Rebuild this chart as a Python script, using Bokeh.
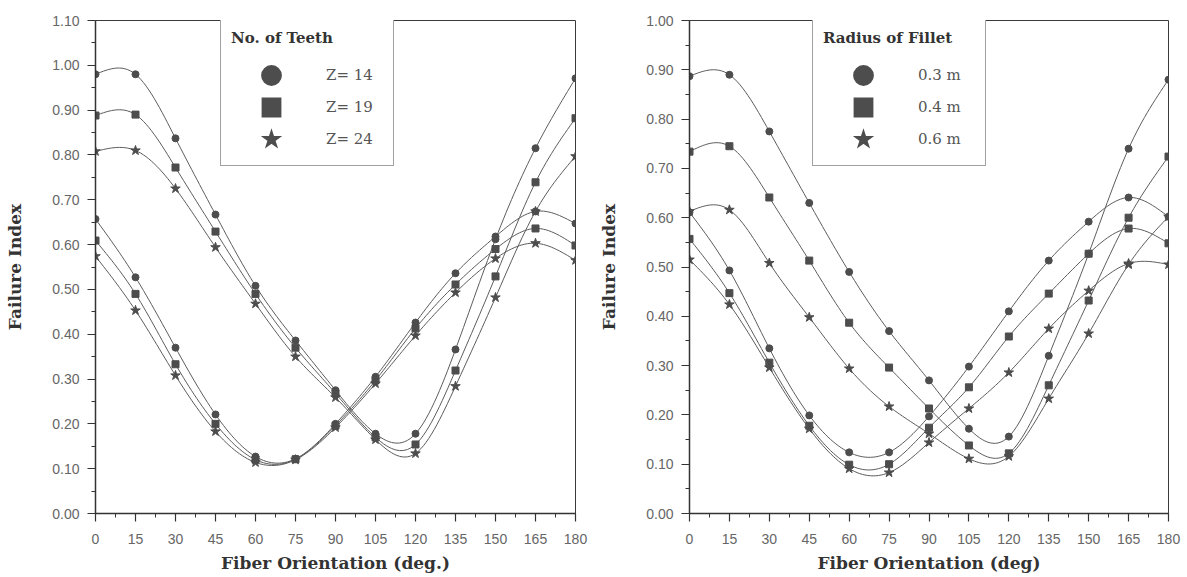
import numpy as np
from bokeh.plotting import figure
from bokeh.layouts import row
from bokeh.models import FixedTicker, NumeralTickFormatter, Legend, LegendItem
from bokeh.embed import file_html
from bokeh.resources import INLINE

# Fibre orientation (degrees) at which the failure index was evaluated
angles = [0, 15, 30, 45, 60, 75, 90, 105, 120, 135, 150, 165, 180]

# Left panel: number of teeth (two curve families per tooth count)
teeth_labels = ["Z= 14", "Z= 19", "Z= 24"]
teeth_z14_a = [0.980, 0.980, 0.837, 0.667, 0.508, 0.386, 0.275, 0.178, 0.178, 0.366, 0.612, 0.815, 0.971]
teeth_z19_a = [0.888, 0.890, 0.772, 0.629, 0.490, 0.370, 0.268, 0.170, 0.154, 0.319, 0.529, 0.739, 0.882]
teeth_z24_a = [0.808, 0.810, 0.725, 0.594, 0.468, 0.350, 0.259, 0.165, 0.134, 0.284, 0.482, 0.674, 0.797]
teeth_z14_b = [0.657, 0.527, 0.370, 0.221, 0.127, 0.122, 0.200, 0.305, 0.426, 0.536, 0.618, 0.674, 0.647]
teeth_z19_b = [0.609, 0.490, 0.333, 0.200, 0.120, 0.121, 0.196, 0.297, 0.413, 0.511, 0.590, 0.636, 0.598]
teeth_z24_b = [0.574, 0.453, 0.308, 0.183, 0.114, 0.120, 0.192, 0.290, 0.397, 0.493, 0.569, 0.603, 0.565]

# Right panel: radius of fillet
fillet_labels = ["0.3 m", "0.4 m", "0.6 m"]
fillet_03_a = [0.887, 0.890, 0.775, 0.630, 0.490, 0.370, 0.270, 0.172, 0.156, 0.320, 0.527, 0.740, 0.880]
fillet_04_a = [0.734, 0.745, 0.641, 0.513, 0.387, 0.296, 0.213, 0.138, 0.122, 0.260, 0.432, 0.600, 0.724]
fillet_06_a = [0.613, 0.616, 0.508, 0.398, 0.294, 0.217, 0.162, 0.111, 0.116, 0.233, 0.365, 0.505, 0.602]
fillet_03_b = [0.611, 0.493, 0.335, 0.199, 0.124, 0.124, 0.197, 0.298, 0.410, 0.513, 0.592, 0.641, 0.602]
fillet_04_b = [0.557, 0.447, 0.306, 0.178, 0.099, 0.100, 0.174, 0.256, 0.359, 0.446, 0.527, 0.578, 0.548]
fillet_06_b = [0.515, 0.424, 0.296, 0.172, 0.091, 0.083, 0.144, 0.213, 0.286, 0.375, 0.452, 0.507, 0.505]

left_y_ticks = [0.0, 0.1, 0.2, 0.3, 0.4, 0.5, 0.6, 0.7, 0.8, 0.9, 1.0, 1.1]
right_y_ticks = [0.0, 0.1, 0.2, 0.3, 0.4, 0.5, 0.6, 0.7, 0.8, 0.9, 1.0]

markers = ["circle", "square", "star"]
marker_sizes = [7, 7, 10]
# outline weight / join of the enlarged legend key symbols
key_widths = [8, 7, 3]
key_joins = ["round", "miter", "miter"]
INK = "#4d4d4d"
LINE = "#5c5c5c"
SERIF = "DejaVu Serif"


def natural_spline(x, y, step=1.0):
    """Smooth curve through the measured points (natural cubic spline)."""
    x = np.asarray(x, float)
    y = np.asarray(y, float)
    n = len(x)
    h = np.diff(x)
    A = np.zeros((n, n))
    r = np.zeros(n)
    A[0, 0] = A[-1, -1] = 1.0
    for i in range(1, n - 1):
        A[i, i - 1] = h[i - 1]
        A[i, i] = 2 * (h[i - 1] + h[i])
        A[i, i + 1] = h[i]
        r[i] = 3 * ((y[i + 1] - y[i]) / h[i] - (y[i] - y[i - 1]) / h[i - 1])
    c = np.linalg.solve(A, r)
    b = (y[1:] - y[:-1]) / h - h * (2 * c[:-1] + c[1:]) / 3
    d = (c[1:] - c[:-1]) / (3 * h)
    xs = np.arange(x[0], x[-1] + step / 2, step)
    idx = np.clip(np.searchsorted(x, xs, side="right") - 1, 0, n - 2)
    t = xs - x[idx]
    ys = y[idx] + b[idx] * t + c[idx] * t ** 2 + d[idx] * t ** 3
    return xs, ys


def make_panel(series_a, series_b, labels, legend_title, y_ticks, y_max,
               x_title, border_left, frame_w, border_right, border_top,
               border_bottom, legend_loc):
    p = figure(frame_width=frame_w, frame_height=493,
               min_border_left=border_left, min_border_right=border_right,
               min_border_top=border_top, min_border_bottom=border_bottom,
               x_range=(0, 180), y_range=(0, y_max),
               output_backend="svg", toolbar_location=None,
               background_fill_color="white", border_fill_color="white")
    p.grid.visible = False
    p.outline_line_color = "#3a3a3a"
    p.outline_line_width = 1

    items = []
    for k in range(3):
        for ys in (series_a[k], series_b[k]):
            sx, sy = natural_spline(angles, ys)
            p.line(sx, sy, line_color=LINE, line_width=1)
            p.scatter(angles, ys, marker=markers[k], size=marker_sizes[k],
                      fill_color=INK, line_color=INK)
        # legend key: muted (fully transparent) copy of the series, drawn with
        # a heavy outline so that the symbol reads large in the legend box
        key = p.scatter(angles, series_a[k], marker=markers[k],
                        size=marker_sizes[k], fill_color=INK, line_color=INK,
                        line_width=key_widths[k], line_join=key_joins[k],
                        muted_alpha=0)
        key.muted = True
        items.append(LegendItem(label=labels[k], renderers=[key]))

    p.xaxis.ticker = FixedTicker(ticks=angles,
                                 minor_ticks=[a + 7.5 for a in angles[:-1]])
    p.yaxis.ticker = FixedTicker(ticks=y_ticks,
                                 minor_ticks=[t + 0.05 for t in y_ticks[:-1]])
    p.yaxis.formatter = NumeralTickFormatter(format="0.00")
    for ax in (p.xaxis, p.yaxis):
        ax.axis_line_color = "#333333"
        ax.axis_line_width = 1.5
        ax.major_tick_line_color = "#333333"
        ax.minor_tick_line_color = "#333333"
        ax.major_tick_line_width = 1.2
        ax.major_tick_in = 0
        ax.minor_tick_in = 0
        ax.major_tick_out = 8
        ax.minor_tick_out = 4
        ax.major_label_text_font = "Liberation Sans"
        ax.major_label_text_font_size = "14px"
        ax.major_label_text_color = "#666666"
        ax.axis_label_text_font = SERIF
        ax.axis_label_text_font_style = "bold"
        ax.axis_label_text_font_size = "17px"
        ax.axis_label_text_color = "#333333"
    p.xaxis.axis_label = x_title
    p.yaxis.axis_label = "Failure Index"
    p.xaxis.major_label_standoff = 12
    p.yaxis.major_label_standoff = 8
    p.xaxis.axis_label_standoff = 6
    p.yaxis.axis_label_standoff = 24

    legend = Legend(items=items, title=legend_title, location=legend_loc,
                    title_text_font=SERIF, title_text_font_style="bold",
                    title_text_font_size="15px", title_text_color="#333333",
                    label_text_font=SERIF, label_text_font_size="15px",
                    label_text_color="#555555",
                    border_line_color="#444444", border_line_width=1,
                    background_fill_color="white", background_fill_alpha=1,
                    inactive_fill_alpha=0,
                    padding=10, spacing=0, margin=0,
                    glyph_width=80, glyph_height=32, label_standoff=15,
                    label_width=57, title_standoff=12)
    p.add_layout(legend)
    return p


left = make_panel([teeth_z14_a, teeth_z19_a, teeth_z24_a],
                  [teeth_z14_b, teeth_z19_b, teeth_z24_b],
                  teeth_labels, "No. of Teeth", left_y_ticks, 1.10,
                  "Fiber Orientation (deg.)", 95, 480, 15, 15, 69, (125, 347))
right = make_panel([fillet_03_a, fillet_04_a, fillet_06_a],
                   [fillet_03_b, fillet_04_b, fillet_06_b],
                   fillet_labels, "Radius of Fillet", right_y_ticks, 1.00,
                   "Fiber Orientation (deg)", 99, 479, 19, 20, 64, (123, 347))

layout = row(left, right)
open("out.html", "w").write(file_html(layout, INLINE))
